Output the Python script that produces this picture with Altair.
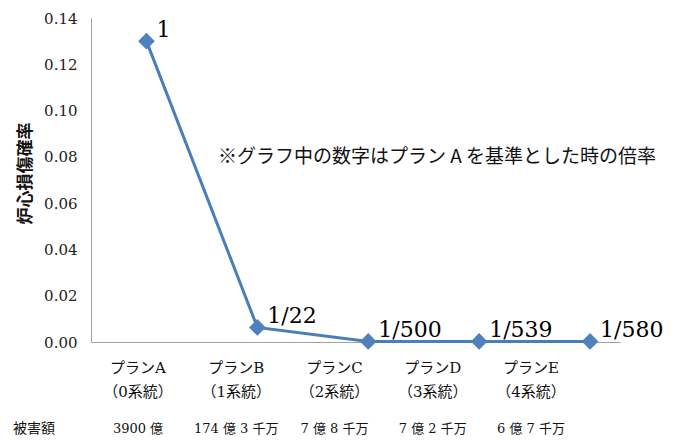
import altair as alt
import pandas as pd

plans = ["プランA", "プランB", "プランC", "プランD", "プランE"]
systems = ["（0系統）", "（1系統）", "（2系統）", "（3系統）", "（4系統）"]
damages = ["3900 億", "174 億 3 千万", "7 億 8 千万", "7 億 2 千万", "6 億 7 千万"]
prob = [0.130, 0.0063, 0.00026, 0.00024, 0.00022]
ratio_labels = ["1", "1/22", "1/500", "1/539", "1/580"]
y_ticks = [0.00, 0.02, 0.04, 0.06, 0.08, 0.10, 0.12, 0.14]
damage_title = "被害額"
note = "※グラフ中の数字はプラン A を基準とした時の倍率"
y_title = "炉心損傷確率"

df = pd.DataFrame({
    "idx": list(range(len(plans))),
    "plan": plans,
    "system": systems,
    "damage": damages,
    "prob": prob,
    "ratio": ratio_labels,
})

SERIF = "DejaVu Serif, Noto Sans CJK JP"
CJK = "Noto Sans CJK JP"

W, H = 529, 324

x_main = alt.X("idx:Q", scale=alt.Scale(domain=[-0.5, 4.27], nice=False, zero=False),
               axis=alt.Axis(labels=False, ticks=False, grid=False, title=None,
                             domainColor="#a0a0a0", domainWidth=1))
y_main = alt.Y("prob:Q", scale=alt.Scale(domain=[0, 0.14], nice=False),
               axis=alt.Axis(values=y_ticks, format=".2f", ticks=False, grid=False,
                             labelFont="DejaVu Serif", labelFontSize=15, labelColor="#222",
                             labelPadding=14, domainColor="#a0a0a0", title=y_title,
                             titleFont=CJK, titleFontSize=17, titleFontWeight="bold",
                             titleColor="#111", titlePadding=9, titleY=155))

base = alt.Chart(df)
line = base.mark_line(color="#4a7ebb", strokeWidth=3).encode(x=x_main, y=y_main)
pts = base.mark_point(shape="diamond", size=280, filled=True, color="#4f81bd", opacity=1).encode(
    x="idx:Q", y="prob:Q")
lbl = base.mark_text(font="DejaVu Serif", fontSize=22, align="left", baseline="alphabetic",
                     dx=10, dy=-4, color="#000").encode(x="idx:Q", y="prob:Q", text="ratio:N")

main = alt.layer(line, pts, lbl)

x_lab = alt.X("plan:N", sort=plans, axis=None,
              scale=alt.Scale(type="point", domain=plans, range=[47, 440], padding=0))

row1 = base.mark_text(font=SERIF, fontSize=15, color="#111", baseline="middle").encode(
    x=x_lab, y=alt.value(350), text="plan:N")
row2 = base.mark_text(font=SERIF, fontSize=15, color="#111", baseline="middle").encode(
    x=x_lab, y=alt.value(374), text="system:N")
row3 = base.mark_text(font=SERIF, fontSize=13, color="#111", baseline="middle").encode(
    x=x_lab, y=alt.value(411), text="damage:N")
rows = alt.layer(row1, row2, row3)

dmg_title = alt.Chart(alt.Data(values=[{"t": damage_title}])).mark_text(
    font=CJK, fontSize=14, color="#111", baseline="middle", align="center").encode(
    x=alt.value(-57), y=alt.value(411), text="t:N")

note_mark = alt.Chart(alt.Data(values=[{"t": note}])).mark_text(
    font=CJK, fontSize=19, color="#111", baseline="middle", align="left").encode(
    x=alt.value(127), y=alt.value(139), text="t:N")

chart = alt.layer(main, rows, dmg_title, note_mark).resolve_scale(
    x="independent"
).properties(
    width=W, height=H,
    autosize=alt.AutoSizeParams(type="none"),
    padding={"left": 91, "top": 18, "right": 54, "bottom": 102},
    background="white",
).configure_view(stroke=None)

chart.save("out.html", embed_options={"renderer": "svg", "actions": False})
